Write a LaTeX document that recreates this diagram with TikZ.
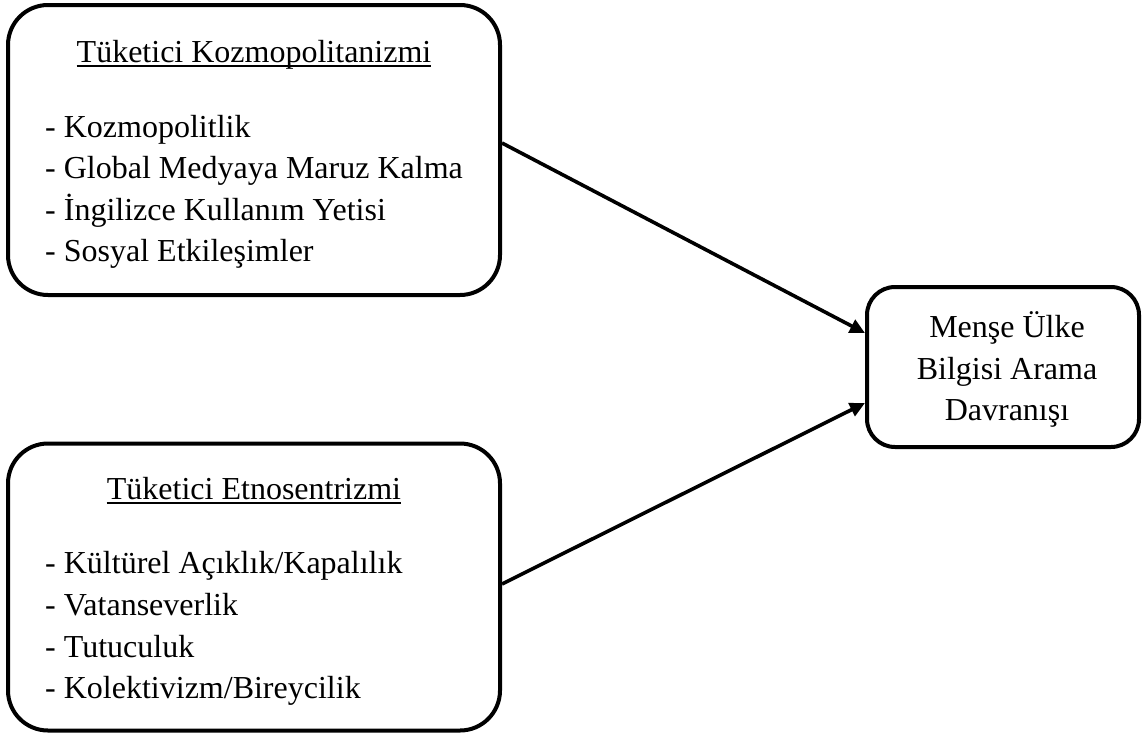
\documentclass[tikz,border=0pt]{standalone}
\usepackage{fontspec}
\setmainfont{Liberation Serif}
\usetikzlibrary{arrows.meta}
\begin{document}
\begin{tikzpicture}[x=1pt,y=-1pt,
  bigbox/.style={draw,line width=4pt,rounded corners=40pt,inner sep=0pt},
  smallbox/.style={draw,line width=4pt,rounded corners=28pt,inner sep=0pt},
  txt/.style={inner sep=0pt,font=\fontsize{32}{41.5}\selectfont},
  conn/.style={line width=3.6pt,-{Triangle[length=15pt,width=14pt]}}]
\useasboundingbox (0,0) rectangle (1143,734);
\node[bigbox,minimum width=492pt,minimum height=290pt] (b1) at (254,150) {};
\node[bigbox,minimum width=492pt,minimum height=287pt] (b2) at (254,587) {};
\node[smallbox,minimum width=272pt,minimum height=160pt] (b3) at (1003,367) {};
% titles
\node[txt,anchor=base] (t1) at (254,62) {Tüketici Kozmopolitanizmi};
\draw[line width=1.4pt] ([yshift=-4pt]t1.base west) -- ([yshift=-4pt]t1.base east);
\node[txt,anchor=base] (t2) at (254,499) {Tüketici Etnosentrizmi};
\draw[line width=1.4pt] ([yshift=-4pt]t2.base west) -- ([yshift=-4pt]t2.base east);
% lists
\node[txt,anchor=base west] (l11) at (45,137) {- Kozmopolitlik};
\node[txt,anchor=base west] (l12) at (45,178) {- Global Medyaya Maruz Kalma};
\node[txt,anchor=base west] (l13) at (45,220) {- İngilizce Kullanım Yetisi};
\node[txt,anchor=base west] (l14) at (45,261) {- Sosyal Etkileşimler};
\node[txt,anchor=base west] (l21) at (45,573) {- Kültürel Açıklık/Kapalılık};
\node[txt,anchor=base west] (l22) at (45,615) {- Vatanseverlik};
\node[txt,anchor=base west] (l23) at (45,657) {- Tutuculuk};
\node[txt,anchor=base west] (l24) at (45,698) {- Kolektivizm/Bireycilik};
% right box text
\node[txt,anchor=base] (r1) at (1007,337) {Menşe Ülke};
\node[txt,anchor=base] (r2) at (1007,379) {Bilgisi Arama};
\node[txt,anchor=base] (r3) at (1007,420) {Davranışı};
% connectors
\draw[conn] ([yshift=7pt]b1.east) -- ([yshift=34pt]b3.west);
\draw[conn] ([yshift=3pt]b2.east) -- ([yshift=-36pt]b3.west);
\end{tikzpicture}
\end{document}
